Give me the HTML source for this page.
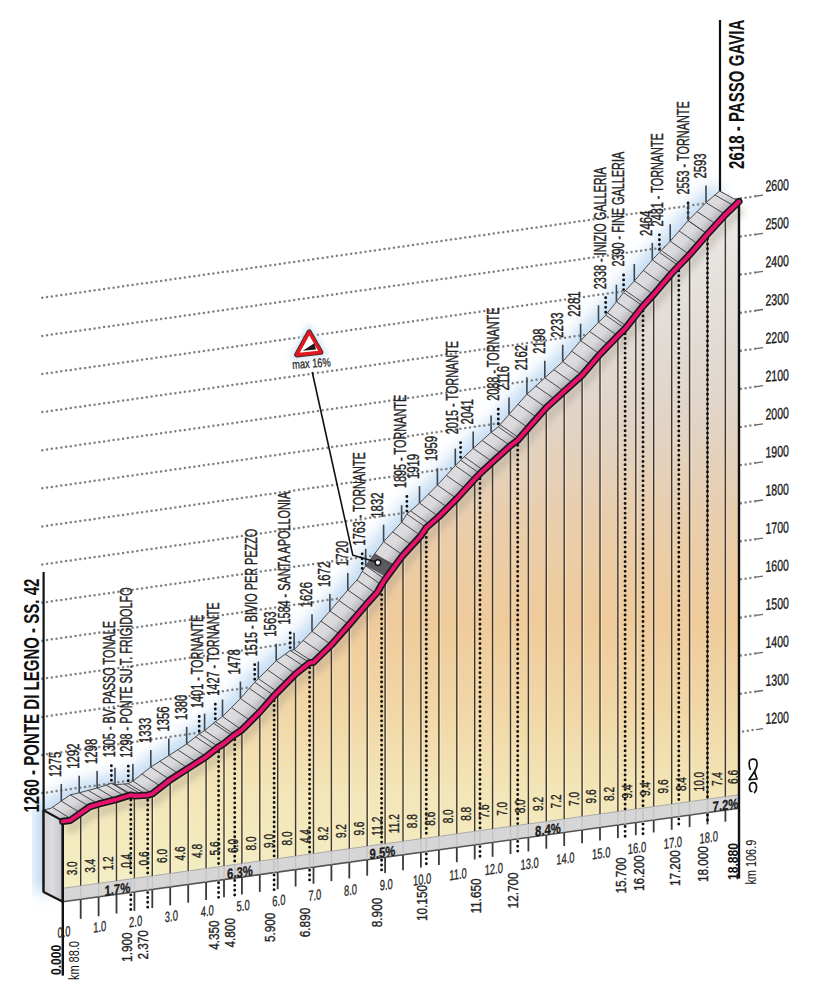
<!DOCTYPE html><html><head><meta charset="utf-8"><style>html,body{margin:0;padding:0;background:#fff;width:815px;height:1000px;overflow:hidden}svg{display:block}</style></head><body>
<svg width="815" height="1000" viewBox="0 0 815 1000" font-family="Liberation Sans, sans-serif">
<defs>
<linearGradient id="face" gradientUnits="userSpaceOnUse" x1="0" y1="200" x2="0" y2="900">
<stop offset="0" stop-color="#efedeb"/><stop offset="0.1" stop-color="#e6e2de"/><stop offset="0.22" stop-color="#e1dad3"/><stop offset="0.33" stop-color="#e2d3c3"/>
<stop offset="0.47" stop-color="#eacdaa"/><stop offset="0.6" stop-color="#efcb9b"/><stop offset="0.72" stop-color="#f1d6a5"/><stop offset="0.85" stop-color="#f3e6b8"/><stop offset="1" stop-color="#f4efc6"/>
</linearGradient>
<linearGradient id="box" x1="0" y1="0" x2="1" y2="0"><stop offset="0" stop-color="#d2d2d6"/><stop offset="0.45" stop-color="#dcdcdf"/><stop offset="1" stop-color="#c6c6ca"/></linearGradient>
<filter id="blur" x="-20%" y="-20%" width="140%" height="140%"><feGaussianBlur stdDeviation="7.5"/></filter>
<filter id="blur2" x="-50%" y="-50%" width="200%" height="200%"><feGaussianBlur stdDeviation="3"/></filter>
</defs>
<polyline points="43.4,810.1 50.9,808.3 70.3,794.8 79.2,792.8 97.1,788.0 111.4,783.3 115.0,784.7 128.3,783.7 132.9,781.1 150.8,767.0 168.8,755.6 186.7,743.9 199.2,734.0 204.6,730.6 215.3,721.7 222.5,716.5 240.4,698.5 254.7,682.2 258.3,678.6 276.2,660.7 290.2,650.6 294.1,649.7 312.0,631.3 329.9,611.0 347.8,590.0 357.9,578.9 362.2,571.4 365.7,565.8 383.6,541.7 401.6,522.2 406.9,514.1 419.5,503.1 437.4,485.1 455.3,465.6 460.6,460.2 473.2,448.4 491.1,432.4 498.3,426.8 509.0,414.4 526.9,394.2 544.8,377.8 562.7,361.7 580.6,340.7 598.5,322.3 605.7,315.2 616.4,301.7 623.6,292.6 634.3,281.0 652.3,259.9 659.4,252.4 670.2,241.2 688.1,220.6 706.0,202.6 719.6,191.0" fill="none" stroke="#c2dbf3" stroke-width="20" filter="url(#blur)" stroke-linejoin="round"/>
<polygon points="35.4,805.0 35.4,890.0 51.4,895.0 51.4,810.0" fill="#b4d2f0" filter="url(#blur)"/>
<line x1="42.3" y1="297.8" x2="756.0" y2="196.2" stroke="#808080" stroke-width="2.5" stroke-dasharray="0 4.8" stroke-linecap="round"/>
<line x1="756" y1="196.2" x2="763" y2="195.2" stroke="#666" stroke-width="1.3"/>
<text font-size="15.5" fill="#1a1a1a" stroke="#1a1a1a" stroke-width="0.35" transform="translate(765.5 191.5) skewY(-4) scale(0.68 1)">2600</text>
<line x1="42.3" y1="335.9" x2="756.0" y2="234.3" stroke="#808080" stroke-width="2.5" stroke-dasharray="0 4.8" stroke-linecap="round"/>
<line x1="756" y1="234.3" x2="763" y2="233.3" stroke="#666" stroke-width="1.3"/>
<text font-size="15.5" fill="#1a1a1a" stroke="#1a1a1a" stroke-width="0.35" transform="translate(765.5 229.6) skewY(-4) scale(0.68 1)">2500</text>
<line x1="42.3" y1="374.0" x2="756.0" y2="272.4" stroke="#808080" stroke-width="2.5" stroke-dasharray="0 4.8" stroke-linecap="round"/>
<line x1="756" y1="272.4" x2="763" y2="271.4" stroke="#666" stroke-width="1.3"/>
<text font-size="15.5" fill="#1a1a1a" stroke="#1a1a1a" stroke-width="0.35" transform="translate(765.5 267.6) skewY(-4) scale(0.68 1)">2400</text>
<line x1="42.3" y1="412.1" x2="756.0" y2="310.5" stroke="#808080" stroke-width="2.5" stroke-dasharray="0 4.8" stroke-linecap="round"/>
<line x1="756" y1="310.5" x2="763" y2="309.5" stroke="#666" stroke-width="1.3"/>
<text font-size="15.5" fill="#1a1a1a" stroke="#1a1a1a" stroke-width="0.35" transform="translate(765.5 305.7) skewY(-4) scale(0.68 1)">2300</text>
<line x1="42.3" y1="450.2" x2="756.0" y2="348.6" stroke="#808080" stroke-width="2.5" stroke-dasharray="0 4.8" stroke-linecap="round"/>
<line x1="756" y1="348.6" x2="763" y2="347.6" stroke="#666" stroke-width="1.3"/>
<text font-size="15.5" fill="#1a1a1a" stroke="#1a1a1a" stroke-width="0.35" transform="translate(765.5 343.7) skewY(-4) scale(0.68 1)">2200</text>
<line x1="42.3" y1="488.3" x2="756.0" y2="386.7" stroke="#808080" stroke-width="2.5" stroke-dasharray="0 4.8" stroke-linecap="round"/>
<line x1="756" y1="386.7" x2="763" y2="385.7" stroke="#666" stroke-width="1.3"/>
<text font-size="15.5" fill="#1a1a1a" stroke="#1a1a1a" stroke-width="0.35" transform="translate(765.5 381.7) skewY(-4) scale(0.68 1)">2100</text>
<line x1="42.3" y1="526.4" x2="756.0" y2="424.8" stroke="#808080" stroke-width="2.5" stroke-dasharray="0 4.8" stroke-linecap="round"/>
<line x1="756" y1="424.8" x2="763" y2="423.8" stroke="#666" stroke-width="1.3"/>
<text font-size="15.5" fill="#1a1a1a" stroke="#1a1a1a" stroke-width="0.35" transform="translate(765.5 419.8) skewY(-4) scale(0.68 1)">2000</text>
<line x1="42.3" y1="564.5" x2="756.0" y2="462.9" stroke="#808080" stroke-width="2.5" stroke-dasharray="0 4.8" stroke-linecap="round"/>
<line x1="756" y1="462.9" x2="763" y2="461.9" stroke="#666" stroke-width="1.3"/>
<text font-size="15.5" fill="#1a1a1a" stroke="#1a1a1a" stroke-width="0.35" transform="translate(765.5 457.8) skewY(-4) scale(0.68 1)">1900</text>
<line x1="42.3" y1="602.6" x2="756.0" y2="501.0" stroke="#808080" stroke-width="2.5" stroke-dasharray="0 4.8" stroke-linecap="round"/>
<line x1="756" y1="501.0" x2="763" y2="500.0" stroke="#666" stroke-width="1.3"/>
<text font-size="15.5" fill="#1a1a1a" stroke="#1a1a1a" stroke-width="0.35" transform="translate(765.5 495.9) skewY(-4) scale(0.68 1)">1800</text>
<line x1="42.3" y1="640.7" x2="756.0" y2="539.1" stroke="#808080" stroke-width="2.5" stroke-dasharray="0 4.8" stroke-linecap="round"/>
<line x1="756" y1="539.1" x2="763" y2="538.1" stroke="#666" stroke-width="1.3"/>
<text font-size="15.5" fill="#1a1a1a" stroke="#1a1a1a" stroke-width="0.35" transform="translate(765.5 533.9) skewY(-4) scale(0.68 1)">1700</text>
<line x1="42.3" y1="678.8" x2="756.0" y2="577.2" stroke="#808080" stroke-width="2.5" stroke-dasharray="0 4.8" stroke-linecap="round"/>
<line x1="756" y1="577.2" x2="763" y2="576.2" stroke="#666" stroke-width="1.3"/>
<text font-size="15.5" fill="#1a1a1a" stroke="#1a1a1a" stroke-width="0.35" transform="translate(765.5 571.9) skewY(-4) scale(0.68 1)">1600</text>
<line x1="42.3" y1="716.9" x2="756.0" y2="615.3" stroke="#808080" stroke-width="2.5" stroke-dasharray="0 4.8" stroke-linecap="round"/>
<line x1="756" y1="615.3" x2="763" y2="614.3" stroke="#666" stroke-width="1.3"/>
<text font-size="15.5" fill="#1a1a1a" stroke="#1a1a1a" stroke-width="0.35" transform="translate(765.5 610.0) skewY(-4) scale(0.68 1)">1500</text>
<line x1="42.3" y1="755.0" x2="756.0" y2="653.4" stroke="#808080" stroke-width="2.5" stroke-dasharray="0 4.8" stroke-linecap="round"/>
<line x1="756" y1="653.4" x2="763" y2="652.4" stroke="#666" stroke-width="1.3"/>
<text font-size="15.5" fill="#1a1a1a" stroke="#1a1a1a" stroke-width="0.35" transform="translate(765.5 648.0) skewY(-4) scale(0.68 1)">1400</text>
<line x1="42.3" y1="793.1" x2="756.0" y2="691.5" stroke="#808080" stroke-width="2.5" stroke-dasharray="0 4.8" stroke-linecap="round"/>
<line x1="756" y1="691.5" x2="763" y2="690.5" stroke="#666" stroke-width="1.3"/>
<text font-size="15.5" fill="#1a1a1a" stroke="#1a1a1a" stroke-width="0.35" transform="translate(765.5 686.1) skewY(-4) scale(0.68 1)">1300</text>
<line x1="738.3" y1="732.2" x2="756.0" y2="729.6" stroke="#808080" stroke-width="2.5" stroke-dasharray="0 4.8" stroke-linecap="round"/>
<line x1="756" y1="729.6" x2="763" y2="728.6" stroke="#666" stroke-width="1.3"/>
<text font-size="15.5" fill="#1a1a1a" stroke="#1a1a1a" stroke-width="0.35" transform="translate(765.5 724.1) skewY(-4) scale(0.68 1)">1200</text>
<line x1="43.6" y1="572" x2="43.6" y2="892" stroke="#111" stroke-width="2.2"/>
<line x1="720" y1="20" x2="720" y2="192" stroke="#111" stroke-width="2.2"/>
<clipPath id="topclip"><polygon points="62.8,821.4 70.3,820.4 89.7,806.8 98.6,804.1 116.5,799.5 130.8,795.0 134.4,796.0 147.7,795.2 152.3,793.8 170.2,779.9 188.2,768.3 206.1,756.8 218.6,746.9 224.0,743.5 234.7,734.8 241.9,729.9 259.8,712.0 274.1,695.7 277.7,692.1 295.6,674.0 309.6,662.7 313.5,662.3 331.4,644.8 349.3,624.5 367.2,603.5 377.3,592.4 381.6,584.9 385.1,579.3 403.0,555.2 420.9,535.7 426.3,527.6 438.9,516.6 456.8,498.6 474.7,479.1 480.0,473.7 492.6,461.9 510.5,445.7 517.7,440.3 528.4,427.9 546.3,407.7 564.2,391.3 582.1,375.2 600.0,354.2 617.9,335.8 625.1,328.7 635.8,315.2 643.0,306.1 653.7,294.5 671.7,273.4 678.8,265.9 689.6,254.7 707.5,234.1 725.4,214.6 739.0,201.5 719.6,191.0 706.0,202.6 688.1,220.6 670.2,241.2 659.4,252.4 652.3,259.9 634.3,281.0 623.6,292.6 616.4,301.7 605.7,315.2 598.5,322.3 580.6,340.7 562.7,361.7 544.8,377.8 526.9,394.2 509.0,414.4 498.3,426.8 491.1,432.4 473.2,448.4 460.6,460.2 455.3,465.6 437.4,485.1 419.5,503.1 406.9,514.1 401.6,522.2 383.6,541.7 365.7,565.8 362.2,571.4 357.9,578.9 347.8,590.0 329.9,611.0 312.0,631.3 294.1,649.7 290.2,650.6 276.2,660.7 258.3,678.6 254.7,682.2 240.4,698.5 222.5,716.5 215.3,721.7 204.6,730.6 199.2,734.0 186.7,743.9 168.8,755.6 150.8,767.0 132.9,781.1 128.3,783.7 115.0,784.7 111.4,783.3 97.1,788.0 79.2,792.8 70.3,794.8 50.9,808.3 43.4,810.1"/></clipPath>
<polygon points="62.8,821.4 70.3,820.4 89.7,806.8 98.6,804.1 116.5,799.5 130.8,795.0 134.4,796.0 147.7,795.2 152.3,793.8 170.2,779.9 188.2,768.3 206.1,756.8 218.6,746.9 224.0,743.5 234.7,734.8 241.9,729.9 259.8,712.0 274.1,695.7 277.7,692.1 295.6,674.0 309.6,662.7 313.5,662.3 331.4,644.8 349.3,624.5 367.2,603.5 377.3,592.4 381.6,584.9 385.1,579.3 403.0,555.2 420.9,535.7 426.3,527.6 438.9,516.6 456.8,498.6 474.7,479.1 480.0,473.7 492.6,461.9 510.5,445.7 517.7,440.3 528.4,427.9 546.3,407.7 564.2,391.3 582.1,375.2 600.0,354.2 617.9,335.8 625.1,328.7 635.8,315.2 643.0,306.1 653.7,294.5 671.7,273.4 678.8,265.9 689.6,254.7 707.5,234.1 725.4,214.6 739.0,201.5 719.6,191.0 706.0,202.6 688.1,220.6 670.2,241.2 659.4,252.4 652.3,259.9 634.3,281.0 623.6,292.6 616.4,301.7 605.7,315.2 598.5,322.3 580.6,340.7 562.7,361.7 544.8,377.8 526.9,394.2 509.0,414.4 498.3,426.8 491.1,432.4 473.2,448.4 460.6,460.2 455.3,465.6 437.4,485.1 419.5,503.1 406.9,514.1 401.6,522.2 383.6,541.7 365.7,565.8 362.2,571.4 357.9,578.9 347.8,590.0 329.9,611.0 312.0,631.3 294.1,649.7 290.2,650.6 276.2,660.7 258.3,678.6 254.7,682.2 240.4,698.5 222.5,716.5 215.3,721.7 204.6,730.6 199.2,734.0 186.7,743.9 168.8,755.6 150.8,767.0 132.9,781.1 128.3,783.7 115.0,784.7 111.4,783.3 97.1,788.0 79.2,792.8 70.3,794.8 50.9,808.3 43.4,810.1" fill="#dcdcdf"/>
<g clip-path="url(#topclip)"><polyline points="58.9,820.3 66.4,819.3 85.8,805.7 94.7,803.0 112.6,798.4 127.0,793.9 130.6,794.9 143.8,794.1 148.5,792.7 166.4,778.8 184.3,767.2 202.2,755.7 214.7,745.8 220.1,742.4 230.8,733.7 238.0,728.8 255.9,710.9 270.2,694.6 273.8,691.0 291.7,672.9 305.7,661.6 309.6,661.2 327.5,643.7 345.4,623.4 363.3,602.4 373.4,591.3 377.7,583.8 381.3,578.2 399.2,554.1 417.1,534.6 422.4,526.5 435.0,515.5 452.9,497.5 470.8,478.0 476.2,472.6 488.7,460.8 506.6,444.6 513.8,439.2 524.5,426.8 542.4,406.6 560.3,390.2 578.2,374.1 596.1,353.1 614.1,334.7 621.2,327.6 632.0,314.1 639.1,305.0 649.9,293.4 667.8,272.3 674.9,264.8 685.7,253.6 703.6,233.0 721.5,213.5 735.1,200.4" fill="none" stroke="#b4b4b9" stroke-width="9" filter="url(#blur2)"/></g>
<polygon points="385.1,576.3 394.1,564.3 374.7,553.8 365.7,565.8" fill="#5c5c60"/>
<polygon points="62.8,821.4 70.3,820.4 89.7,806.8 98.6,804.1 116.5,799.5 130.8,795.0 134.4,796.0 147.7,795.2 152.3,793.8 170.2,779.9 188.2,768.3 206.1,756.8 218.6,746.9 224.0,743.5 234.7,734.8 241.9,729.9 259.8,712.0 274.1,695.7 277.7,692.1 295.6,674.0 309.6,662.7 313.5,662.3 331.4,644.8 349.3,624.5 367.2,603.5 377.3,592.4 381.6,584.9 385.1,579.3 403.0,555.2 420.9,535.7 426.3,527.6 438.9,516.6 456.8,498.6 474.7,479.1 480.0,473.7 492.6,461.9 510.5,445.7 517.7,440.3 528.4,427.9 546.3,407.7 564.2,391.3 582.1,375.2 600.0,354.2 617.9,335.8 625.1,328.7 635.8,315.2 643.0,306.1 653.7,294.5 671.7,273.4 678.8,265.9 689.6,254.7 707.5,234.1 725.4,214.6 739.0,201.5 719.6,191.0 706.0,202.6 688.1,220.6 670.2,241.2 659.4,252.4 652.3,259.9 634.3,281.0 623.6,292.6 616.4,301.7 605.7,315.2 598.5,322.3 580.6,340.7 562.7,361.7 544.8,377.8 526.9,394.2 509.0,414.4 498.3,426.8 491.1,432.4 473.2,448.4 460.6,460.2 455.3,465.6 437.4,485.1 419.5,503.1 406.9,514.1 401.6,522.2 383.6,541.7 365.7,565.8 362.2,571.4 357.9,578.9 347.8,590.0 329.9,611.0 312.0,631.3 294.1,649.7 290.2,650.6 276.2,660.7 258.3,678.6 254.7,682.2 240.4,698.5 222.5,716.5 215.3,721.7 204.6,730.6 199.2,734.0 186.7,743.9 168.8,755.6 150.8,767.0 132.9,781.1 128.3,783.7 115.0,784.7 111.4,783.3 97.1,788.0 79.2,792.8 70.3,794.8 50.9,808.3 43.4,810.1" fill="none" stroke="#4a4a4e" stroke-width="1"/>
<line x1="62.8" y1="821.4" x2="43.4" y2="810.1" stroke="#4a4a4e" stroke-width="1"/>
<line x1="71.8" y1="819.4" x2="52.4" y2="807.3" stroke="#4a4a4e" stroke-width="1"/>
<line x1="80.7" y1="813.1" x2="61.3" y2="801.0" stroke="#4a4a4e" stroke-width="1"/>
<line x1="89.7" y1="806.8" x2="70.3" y2="794.8" stroke="#4a4a4e" stroke-width="1"/>
<line x1="98.6" y1="804.1" x2="79.2" y2="792.8" stroke="#4a4a4e" stroke-width="1"/>
<line x1="107.6" y1="801.8" x2="88.2" y2="790.4" stroke="#4a4a4e" stroke-width="1"/>
<line x1="116.5" y1="799.5" x2="97.1" y2="788.0" stroke="#4a4a4e" stroke-width="1"/>
<line x1="125.5" y1="796.7" x2="106.1" y2="785.0" stroke="#4a4a4e" stroke-width="1"/>
<line x1="134.4" y1="796.0" x2="115.0" y2="784.7" stroke="#4a4a4e" stroke-width="1"/>
<line x1="143.4" y1="795.5" x2="124.0" y2="784.0" stroke="#4a4a4e" stroke-width="1"/>
<line x1="152.3" y1="793.8" x2="132.9" y2="781.1" stroke="#4a4a4e" stroke-width="1"/>
<line x1="161.3" y1="786.8" x2="141.9" y2="774.0" stroke="#4a4a4e" stroke-width="1"/>
<line x1="170.2" y1="779.9" x2="150.8" y2="767.0" stroke="#4a4a4e" stroke-width="1"/>
<line x1="179.2" y1="774.1" x2="159.8" y2="761.3" stroke="#4a4a4e" stroke-width="1"/>
<line x1="188.2" y1="768.3" x2="168.8" y2="755.6" stroke="#4a4a4e" stroke-width="1"/>
<line x1="197.1" y1="762.5" x2="177.7" y2="749.7" stroke="#4a4a4e" stroke-width="1"/>
<line x1="206.1" y1="756.8" x2="186.7" y2="743.9" stroke="#4a4a4e" stroke-width="1"/>
<line x1="215.0" y1="749.7" x2="195.6" y2="736.8" stroke="#4a4a4e" stroke-width="1"/>
<line x1="224.0" y1="743.5" x2="204.6" y2="730.6" stroke="#4a4a4e" stroke-width="1"/>
<line x1="232.9" y1="736.3" x2="213.5" y2="723.2" stroke="#4a4a4e" stroke-width="1"/>
<line x1="241.9" y1="729.9" x2="222.5" y2="716.5" stroke="#4a4a4e" stroke-width="1"/>
<line x1="250.8" y1="720.9" x2="231.4" y2="707.5" stroke="#4a4a4e" stroke-width="1"/>
<line x1="259.8" y1="712.0" x2="240.4" y2="698.5" stroke="#4a4a4e" stroke-width="1"/>
<line x1="268.7" y1="701.8" x2="249.3" y2="688.3" stroke="#4a4a4e" stroke-width="1"/>
<line x1="277.7" y1="692.1" x2="258.3" y2="678.6" stroke="#4a4a4e" stroke-width="1"/>
<line x1="286.6" y1="683.1" x2="267.2" y2="669.6" stroke="#4a4a4e" stroke-width="1"/>
<line x1="295.6" y1="674.0" x2="276.2" y2="660.7" stroke="#4a4a4e" stroke-width="1"/>
<line x1="304.6" y1="666.8" x2="285.2" y2="654.2" stroke="#4a4a4e" stroke-width="1"/>
<line x1="313.5" y1="662.3" x2="294.1" y2="649.7" stroke="#4a4a4e" stroke-width="1"/>
<line x1="322.5" y1="653.5" x2="303.1" y2="640.5" stroke="#4a4a4e" stroke-width="1"/>
<line x1="331.4" y1="644.8" x2="312.0" y2="631.3" stroke="#4a4a4e" stroke-width="1"/>
<line x1="340.4" y1="634.7" x2="321.0" y2="621.2" stroke="#4a4a4e" stroke-width="1"/>
<line x1="349.3" y1="624.5" x2="329.9" y2="611.0" stroke="#4a4a4e" stroke-width="1"/>
<line x1="358.3" y1="614.0" x2="338.9" y2="600.5" stroke="#4a4a4e" stroke-width="1"/>
<line x1="367.2" y1="603.5" x2="347.8" y2="590.0" stroke="#4a4a4e" stroke-width="1"/>
<line x1="376.2" y1="593.6" x2="356.8" y2="580.1" stroke="#4a4a4e" stroke-width="1"/>
<line x1="385.1" y1="579.3" x2="365.7" y2="565.8" stroke="#4a4a4e" stroke-width="1"/>
<line x1="394.1" y1="567.3" x2="374.7" y2="553.8" stroke="#4a4a4e" stroke-width="1"/>
<line x1="403.0" y1="555.2" x2="383.6" y2="541.7" stroke="#4a4a4e" stroke-width="1"/>
<line x1="412.0" y1="545.4" x2="392.6" y2="531.9" stroke="#4a4a4e" stroke-width="1"/>
<line x1="420.9" y1="535.7" x2="401.6" y2="522.2" stroke="#4a4a4e" stroke-width="1"/>
<line x1="429.9" y1="524.4" x2="410.5" y2="510.9" stroke="#4a4a4e" stroke-width="1"/>
<line x1="438.9" y1="516.6" x2="419.5" y2="503.1" stroke="#4a4a4e" stroke-width="1"/>
<line x1="447.8" y1="507.6" x2="428.4" y2="494.1" stroke="#4a4a4e" stroke-width="1"/>
<line x1="456.8" y1="498.6" x2="437.4" y2="485.1" stroke="#4a4a4e" stroke-width="1"/>
<line x1="465.7" y1="488.9" x2="446.3" y2="475.4" stroke="#4a4a4e" stroke-width="1"/>
<line x1="474.7" y1="479.1" x2="455.3" y2="465.6" stroke="#4a4a4e" stroke-width="1"/>
<line x1="483.6" y1="470.3" x2="464.2" y2="456.8" stroke="#4a4a4e" stroke-width="1"/>
<line x1="492.6" y1="461.9" x2="473.2" y2="448.4" stroke="#4a4a4e" stroke-width="1"/>
<line x1="501.5" y1="453.8" x2="482.1" y2="440.4" stroke="#4a4a4e" stroke-width="1"/>
<line x1="510.5" y1="445.7" x2="491.1" y2="432.4" stroke="#4a4a4e" stroke-width="1"/>
<line x1="519.4" y1="438.2" x2="500.0" y2="424.7" stroke="#4a4a4e" stroke-width="1"/>
<line x1="528.4" y1="427.9" x2="509.0" y2="414.4" stroke="#4a4a4e" stroke-width="1"/>
<line x1="537.3" y1="417.8" x2="517.9" y2="404.3" stroke="#4a4a4e" stroke-width="1"/>
<line x1="546.3" y1="407.7" x2="526.9" y2="394.2" stroke="#4a4a4e" stroke-width="1"/>
<line x1="555.3" y1="399.5" x2="535.9" y2="386.0" stroke="#4a4a4e" stroke-width="1"/>
<line x1="564.2" y1="391.3" x2="544.8" y2="377.8" stroke="#4a4a4e" stroke-width="1"/>
<line x1="573.2" y1="383.2" x2="553.8" y2="369.7" stroke="#4a4a4e" stroke-width="1"/>
<line x1="582.1" y1="375.2" x2="562.7" y2="361.7" stroke="#4a4a4e" stroke-width="1"/>
<line x1="591.1" y1="364.7" x2="571.7" y2="351.2" stroke="#4a4a4e" stroke-width="1"/>
<line x1="600.0" y1="354.2" x2="580.6" y2="340.7" stroke="#4a4a4e" stroke-width="1"/>
<line x1="609.0" y1="345.0" x2="589.6" y2="331.5" stroke="#4a4a4e" stroke-width="1"/>
<line x1="617.9" y1="335.8" x2="598.5" y2="322.3" stroke="#4a4a4e" stroke-width="1"/>
<line x1="626.9" y1="326.4" x2="607.5" y2="312.9" stroke="#4a4a4e" stroke-width="1"/>
<line x1="635.8" y1="315.2" x2="616.4" y2="301.7" stroke="#4a4a4e" stroke-width="1"/>
<line x1="644.8" y1="304.1" x2="625.4" y2="290.6" stroke="#4a4a4e" stroke-width="1"/>
<line x1="653.7" y1="294.5" x2="634.3" y2="281.0" stroke="#4a4a4e" stroke-width="1"/>
<line x1="662.7" y1="284.0" x2="643.3" y2="270.5" stroke="#4a4a4e" stroke-width="1"/>
<line x1="671.7" y1="273.4" x2="652.3" y2="259.9" stroke="#4a4a4e" stroke-width="1"/>
<line x1="680.6" y1="264.0" x2="661.2" y2="250.5" stroke="#4a4a4e" stroke-width="1"/>
<line x1="689.6" y1="254.7" x2="670.2" y2="241.2" stroke="#4a4a4e" stroke-width="1"/>
<line x1="698.5" y1="244.4" x2="679.1" y2="230.9" stroke="#4a4a4e" stroke-width="1"/>
<line x1="707.5" y1="234.1" x2="688.1" y2="220.6" stroke="#4a4a4e" stroke-width="1"/>
<line x1="716.4" y1="224.3" x2="697.0" y2="211.6" stroke="#4a4a4e" stroke-width="1"/>
<line x1="725.4" y1="214.6" x2="706.0" y2="202.6" stroke="#4a4a4e" stroke-width="1"/>
<line x1="734.3" y1="206.0" x2="714.9" y2="195.0" stroke="#4a4a4e" stroke-width="1"/>
<line x1="130.8" y1="795.0" x2="111.4" y2="783.3" stroke="#4a4a4e" stroke-width="1"/>
<line x1="147.7" y1="795.2" x2="128.3" y2="783.7" stroke="#4a4a4e" stroke-width="1"/>
<line x1="218.6" y1="746.9" x2="199.2" y2="734.0" stroke="#4a4a4e" stroke-width="1"/>
<line x1="234.7" y1="734.8" x2="215.3" y2="721.7" stroke="#4a4a4e" stroke-width="1"/>
<line x1="274.1" y1="695.7" x2="254.7" y2="682.2" stroke="#4a4a4e" stroke-width="1"/>
<line x1="309.6" y1="662.7" x2="290.2" y2="650.6" stroke="#4a4a4e" stroke-width="1"/>
<line x1="381.6" y1="584.9" x2="362.2" y2="571.4" stroke="#4a4a4e" stroke-width="1"/>
<line x1="426.3" y1="527.6" x2="406.9" y2="514.1" stroke="#4a4a4e" stroke-width="1"/>
<line x1="480.0" y1="473.7" x2="460.6" y2="460.2" stroke="#4a4a4e" stroke-width="1"/>
<line x1="517.7" y1="440.3" x2="498.3" y2="426.8" stroke="#4a4a4e" stroke-width="1"/>
<line x1="625.1" y1="328.7" x2="605.7" y2="315.2" stroke="#4a4a4e" stroke-width="1"/>
<line x1="643.0" y1="306.1" x2="623.6" y2="292.6" stroke="#4a4a4e" stroke-width="1"/>
<line x1="678.8" y1="265.9" x2="659.4" y2="252.4" stroke="#4a4a4e" stroke-width="1"/>
<line x1="707.5" y1="234.1" x2="688.1" y2="220.6" stroke="#4a4a4e" stroke-width="1"/>
<polygon points="43.6,810.2 62.8,820.9 62.8,901.8 43.6,892.0" fill="url(#box)" stroke="#161616" stroke-width="2.2" stroke-linejoin="round"/>
<polygon points="62.8,821.4 70.3,820.4 89.7,806.8 98.6,804.1 116.5,799.5 130.8,795.0 134.4,796.0 147.7,795.2 152.3,793.8 170.2,779.9 188.2,768.3 206.1,756.8 218.6,746.9 224.0,743.5 234.7,734.8 241.9,729.9 259.8,712.0 274.1,695.7 277.7,692.1 295.6,674.0 309.6,662.7 313.5,662.3 331.4,644.8 349.3,624.5 367.2,603.5 377.3,592.4 381.6,584.9 385.1,579.3 403.0,555.2 420.9,535.7 426.3,527.6 438.9,516.6 456.8,498.6 474.7,479.1 480.0,473.7 492.6,461.9 510.5,445.7 517.7,440.3 528.4,427.9 546.3,407.7 564.2,391.3 582.1,375.2 600.0,354.2 617.9,335.8 625.1,328.7 635.8,315.2 643.0,306.1 653.7,294.5 671.7,273.4 678.8,265.9 689.6,254.7 707.5,234.1 725.4,214.6 739.0,201.5 739.0,808.3 62.8,901.8" fill="url(#face)"/>
<polyline points="65.8,828.4 73.3,827.4 92.7,813.8 101.6,811.1 119.5,806.5 133.8,802.0 137.4,803.0 150.7,802.2 155.3,800.8 173.2,786.9 191.2,775.3 209.1,763.8 221.6,753.9 227.0,750.5 237.7,741.8 244.9,736.9 262.8,719.0 277.1,702.7 280.7,699.1 298.6,681.0 312.6,669.7 316.5,669.3 334.4,651.8 352.3,631.5 370.2,610.5 380.3,599.4 384.6,591.9 388.1,586.3 406.0,562.2 423.9,542.7 429.3,534.6 441.9,523.6 459.8,505.6 477.7,486.1 483.0,480.7 495.6,468.9 513.5,452.7 520.7,447.3 531.4,434.9 549.3,414.7 567.2,398.3 585.1,382.2 603.0,361.2 620.9,342.8 628.1,335.7 638.8,322.2 646.0,313.1 656.7,301.5 674.7,280.4 681.8,272.9 692.6,261.7 710.5,241.1 728.4,221.6 742.0,208.5" fill="none" stroke="#9a8f84" stroke-opacity="0.35" stroke-width="10" filter="url(#blur2)"/>
<polygon points="62.8,888.3 739.0,794.8 739.0,808.3 62.8,901.8" fill="#d6d6d6"/>
<line x1="62.8" y1="888.3" x2="739.0" y2="794.8" stroke="#aaa" stroke-width="1"/>
<line x1="62.8" y1="901.8" x2="739.0" y2="808.3" stroke="#555" stroke-width="1.6"/>
<line x1="82.0" y1="813.1" x2="82.0" y2="885.8" stroke="#fff" stroke-opacity="0.4" stroke-width="1.1"/>
<line x1="80.7" y1="813.1" x2="80.7" y2="885.8" stroke="#40382f" stroke-width="1.4"/>
<line x1="80.7" y1="885.8" x2="80.7" y2="899.3" stroke="#c2c2c2" stroke-width="1.2"/>
<line x1="80.7" y1="899.3" x2="80.7" y2="918.9" stroke="#3a3a3a" stroke-width="1.8"/>
<line x1="99.9" y1="804.1" x2="99.9" y2="883.3" stroke="#fff" stroke-opacity="0.4" stroke-width="1.1"/>
<line x1="98.6" y1="804.1" x2="98.6" y2="883.3" stroke="#40382f" stroke-width="1.4"/>
<line x1="98.6" y1="883.3" x2="98.6" y2="896.8" stroke="#c2c2c2" stroke-width="1.2"/>
<line x1="98.6" y1="896.8" x2="98.6" y2="916.2" stroke="#3a3a3a" stroke-width="1.8"/>
<line x1="117.8" y1="799.5" x2="117.8" y2="880.9" stroke="#fff" stroke-opacity="0.4" stroke-width="1.1"/>
<line x1="116.5" y1="799.5" x2="116.5" y2="880.9" stroke="#40382f" stroke-width="1.4"/>
<line x1="116.5" y1="880.9" x2="116.5" y2="894.4" stroke="#c2c2c2" stroke-width="1.2"/>
<line x1="116.5" y1="894.4" x2="116.5" y2="913.5" stroke="#3a3a3a" stroke-width="1.8"/>
<line x1="135.7" y1="796.0" x2="135.7" y2="878.4" stroke="#fff" stroke-opacity="0.4" stroke-width="1.1"/>
<line x1="134.4" y1="796.0" x2="134.4" y2="878.4" stroke="#40382f" stroke-width="1.4"/>
<line x1="134.4" y1="878.4" x2="134.4" y2="891.9" stroke="#c2c2c2" stroke-width="1.2"/>
<line x1="134.4" y1="891.9" x2="134.4" y2="910.8" stroke="#3a3a3a" stroke-width="1.8"/>
<line x1="153.6" y1="793.8" x2="153.6" y2="875.9" stroke="#fff" stroke-opacity="0.4" stroke-width="1.1"/>
<line x1="152.3" y1="793.8" x2="152.3" y2="875.9" stroke="#40382f" stroke-width="1.4"/>
<line x1="152.3" y1="875.9" x2="152.3" y2="889.4" stroke="#c2c2c2" stroke-width="1.2"/>
<line x1="152.3" y1="889.4" x2="152.3" y2="908.1" stroke="#3a3a3a" stroke-width="1.8"/>
<line x1="171.5" y1="779.9" x2="171.5" y2="873.4" stroke="#fff" stroke-opacity="0.4" stroke-width="1.1"/>
<line x1="170.2" y1="779.9" x2="170.2" y2="873.4" stroke="#40382f" stroke-width="1.4"/>
<line x1="170.2" y1="873.4" x2="170.2" y2="886.9" stroke="#c2c2c2" stroke-width="1.2"/>
<line x1="170.2" y1="886.9" x2="170.2" y2="905.4" stroke="#3a3a3a" stroke-width="1.8"/>
<line x1="189.5" y1="768.3" x2="189.5" y2="871.0" stroke="#fff" stroke-opacity="0.4" stroke-width="1.1"/>
<line x1="188.2" y1="768.3" x2="188.2" y2="871.0" stroke="#40382f" stroke-width="1.4"/>
<line x1="188.2" y1="871.0" x2="188.2" y2="884.5" stroke="#c2c2c2" stroke-width="1.2"/>
<line x1="188.2" y1="884.5" x2="188.2" y2="902.7" stroke="#3a3a3a" stroke-width="1.8"/>
<line x1="207.4" y1="756.8" x2="207.4" y2="868.5" stroke="#fff" stroke-opacity="0.4" stroke-width="1.1"/>
<line x1="206.1" y1="756.8" x2="206.1" y2="868.5" stroke="#40382f" stroke-width="1.4"/>
<line x1="206.1" y1="868.5" x2="206.1" y2="882.0" stroke="#c2c2c2" stroke-width="1.2"/>
<line x1="206.1" y1="882.0" x2="206.1" y2="900.0" stroke="#3a3a3a" stroke-width="1.8"/>
<line x1="225.3" y1="743.5" x2="225.3" y2="866.0" stroke="#fff" stroke-opacity="0.4" stroke-width="1.1"/>
<line x1="224.0" y1="743.5" x2="224.0" y2="866.0" stroke="#40382f" stroke-width="1.4"/>
<line x1="224.0" y1="866.0" x2="224.0" y2="879.5" stroke="#c2c2c2" stroke-width="1.2"/>
<line x1="224.0" y1="879.5" x2="224.0" y2="897.3" stroke="#3a3a3a" stroke-width="1.8"/>
<line x1="243.2" y1="729.9" x2="243.2" y2="863.5" stroke="#fff" stroke-opacity="0.4" stroke-width="1.1"/>
<line x1="241.9" y1="729.9" x2="241.9" y2="863.5" stroke="#40382f" stroke-width="1.4"/>
<line x1="241.9" y1="863.5" x2="241.9" y2="877.0" stroke="#c2c2c2" stroke-width="1.2"/>
<line x1="241.9" y1="877.0" x2="241.9" y2="894.6" stroke="#3a3a3a" stroke-width="1.8"/>
<line x1="261.1" y1="712.0" x2="261.1" y2="861.1" stroke="#fff" stroke-opacity="0.4" stroke-width="1.1"/>
<line x1="259.8" y1="712.0" x2="259.8" y2="861.1" stroke="#40382f" stroke-width="1.4"/>
<line x1="259.8" y1="861.1" x2="259.8" y2="874.6" stroke="#c2c2c2" stroke-width="1.2"/>
<line x1="259.8" y1="874.6" x2="259.8" y2="891.9" stroke="#3a3a3a" stroke-width="1.8"/>
<line x1="279.0" y1="692.1" x2="279.0" y2="858.6" stroke="#fff" stroke-opacity="0.4" stroke-width="1.1"/>
<line x1="277.7" y1="692.1" x2="277.7" y2="858.6" stroke="#40382f" stroke-width="1.4"/>
<line x1="277.7" y1="858.6" x2="277.7" y2="872.1" stroke="#c2c2c2" stroke-width="1.2"/>
<line x1="277.7" y1="872.1" x2="277.7" y2="889.2" stroke="#3a3a3a" stroke-width="1.8"/>
<line x1="296.9" y1="674.0" x2="296.9" y2="856.1" stroke="#fff" stroke-opacity="0.4" stroke-width="1.1"/>
<line x1="295.6" y1="674.0" x2="295.6" y2="856.1" stroke="#40382f" stroke-width="1.4"/>
<line x1="295.6" y1="856.1" x2="295.6" y2="869.6" stroke="#c2c2c2" stroke-width="1.2"/>
<line x1="295.6" y1="869.6" x2="295.6" y2="886.5" stroke="#3a3a3a" stroke-width="1.8"/>
<line x1="314.8" y1="662.3" x2="314.8" y2="853.6" stroke="#fff" stroke-opacity="0.4" stroke-width="1.1"/>
<line x1="313.5" y1="662.3" x2="313.5" y2="853.6" stroke="#40382f" stroke-width="1.4"/>
<line x1="313.5" y1="853.6" x2="313.5" y2="867.1" stroke="#c2c2c2" stroke-width="1.2"/>
<line x1="313.5" y1="867.1" x2="313.5" y2="883.8" stroke="#3a3a3a" stroke-width="1.8"/>
<line x1="332.7" y1="644.8" x2="332.7" y2="851.2" stroke="#fff" stroke-opacity="0.4" stroke-width="1.1"/>
<line x1="331.4" y1="644.8" x2="331.4" y2="851.2" stroke="#40382f" stroke-width="1.4"/>
<line x1="331.4" y1="851.2" x2="331.4" y2="864.7" stroke="#c2c2c2" stroke-width="1.2"/>
<line x1="331.4" y1="864.7" x2="331.4" y2="881.1" stroke="#3a3a3a" stroke-width="1.8"/>
<line x1="350.6" y1="624.5" x2="350.6" y2="848.7" stroke="#fff" stroke-opacity="0.4" stroke-width="1.1"/>
<line x1="349.3" y1="624.5" x2="349.3" y2="848.7" stroke="#40382f" stroke-width="1.4"/>
<line x1="349.3" y1="848.7" x2="349.3" y2="862.2" stroke="#c2c2c2" stroke-width="1.2"/>
<line x1="349.3" y1="862.2" x2="349.3" y2="878.4" stroke="#3a3a3a" stroke-width="1.8"/>
<line x1="368.5" y1="603.5" x2="368.5" y2="846.2" stroke="#fff" stroke-opacity="0.4" stroke-width="1.1"/>
<line x1="367.2" y1="603.5" x2="367.2" y2="846.2" stroke="#40382f" stroke-width="1.4"/>
<line x1="367.2" y1="846.2" x2="367.2" y2="859.7" stroke="#c2c2c2" stroke-width="1.2"/>
<line x1="367.2" y1="859.7" x2="367.2" y2="875.7" stroke="#3a3a3a" stroke-width="1.8"/>
<line x1="386.4" y1="579.3" x2="386.4" y2="843.7" stroke="#fff" stroke-opacity="0.4" stroke-width="1.1"/>
<line x1="385.1" y1="579.3" x2="385.1" y2="843.7" stroke="#40382f" stroke-width="1.4"/>
<line x1="385.1" y1="843.7" x2="385.1" y2="857.2" stroke="#c2c2c2" stroke-width="1.2"/>
<line x1="385.1" y1="857.2" x2="385.1" y2="873.0" stroke="#3a3a3a" stroke-width="1.8"/>
<line x1="404.3" y1="555.2" x2="404.3" y2="841.2" stroke="#fff" stroke-opacity="0.4" stroke-width="1.1"/>
<line x1="403.0" y1="555.2" x2="403.0" y2="841.2" stroke="#40382f" stroke-width="1.4"/>
<line x1="403.0" y1="841.2" x2="403.0" y2="854.7" stroke="#c2c2c2" stroke-width="1.2"/>
<line x1="403.0" y1="854.7" x2="403.0" y2="870.3" stroke="#3a3a3a" stroke-width="1.8"/>
<line x1="422.2" y1="535.7" x2="422.2" y2="838.8" stroke="#fff" stroke-opacity="0.4" stroke-width="1.1"/>
<line x1="420.9" y1="535.7" x2="420.9" y2="838.8" stroke="#40382f" stroke-width="1.4"/>
<line x1="420.9" y1="838.8" x2="420.9" y2="852.3" stroke="#c2c2c2" stroke-width="1.2"/>
<line x1="420.9" y1="852.3" x2="420.9" y2="867.6" stroke="#3a3a3a" stroke-width="1.8"/>
<line x1="440.2" y1="516.6" x2="440.2" y2="836.3" stroke="#fff" stroke-opacity="0.4" stroke-width="1.1"/>
<line x1="438.9" y1="516.6" x2="438.9" y2="836.3" stroke="#40382f" stroke-width="1.4"/>
<line x1="438.9" y1="836.3" x2="438.9" y2="849.8" stroke="#c2c2c2" stroke-width="1.2"/>
<line x1="438.9" y1="849.8" x2="438.9" y2="864.9" stroke="#3a3a3a" stroke-width="1.8"/>
<line x1="458.1" y1="498.6" x2="458.1" y2="833.8" stroke="#fff" stroke-opacity="0.4" stroke-width="1.1"/>
<line x1="456.8" y1="498.6" x2="456.8" y2="833.8" stroke="#40382f" stroke-width="1.4"/>
<line x1="456.8" y1="833.8" x2="456.8" y2="847.3" stroke="#c2c2c2" stroke-width="1.2"/>
<line x1="456.8" y1="847.3" x2="456.8" y2="862.2" stroke="#3a3a3a" stroke-width="1.8"/>
<line x1="476.0" y1="479.1" x2="476.0" y2="831.3" stroke="#fff" stroke-opacity="0.4" stroke-width="1.1"/>
<line x1="474.7" y1="479.1" x2="474.7" y2="831.3" stroke="#40382f" stroke-width="1.4"/>
<line x1="474.7" y1="831.3" x2="474.7" y2="844.8" stroke="#c2c2c2" stroke-width="1.2"/>
<line x1="474.7" y1="844.8" x2="474.7" y2="859.5" stroke="#3a3a3a" stroke-width="1.8"/>
<line x1="493.9" y1="461.9" x2="493.9" y2="828.9" stroke="#fff" stroke-opacity="0.4" stroke-width="1.1"/>
<line x1="492.6" y1="461.9" x2="492.6" y2="828.9" stroke="#40382f" stroke-width="1.4"/>
<line x1="492.6" y1="828.9" x2="492.6" y2="842.4" stroke="#c2c2c2" stroke-width="1.2"/>
<line x1="492.6" y1="842.4" x2="492.6" y2="856.8" stroke="#3a3a3a" stroke-width="1.8"/>
<line x1="511.8" y1="445.7" x2="511.8" y2="826.4" stroke="#fff" stroke-opacity="0.4" stroke-width="1.1"/>
<line x1="510.5" y1="445.7" x2="510.5" y2="826.4" stroke="#40382f" stroke-width="1.4"/>
<line x1="510.5" y1="826.4" x2="510.5" y2="839.9" stroke="#c2c2c2" stroke-width="1.2"/>
<line x1="510.5" y1="839.9" x2="510.5" y2="854.1" stroke="#3a3a3a" stroke-width="1.8"/>
<line x1="529.7" y1="427.9" x2="529.7" y2="823.9" stroke="#fff" stroke-opacity="0.4" stroke-width="1.1"/>
<line x1="528.4" y1="427.9" x2="528.4" y2="823.9" stroke="#40382f" stroke-width="1.4"/>
<line x1="528.4" y1="823.9" x2="528.4" y2="837.4" stroke="#c2c2c2" stroke-width="1.2"/>
<line x1="528.4" y1="837.4" x2="528.4" y2="851.4" stroke="#3a3a3a" stroke-width="1.8"/>
<line x1="547.6" y1="407.7" x2="547.6" y2="821.4" stroke="#fff" stroke-opacity="0.4" stroke-width="1.1"/>
<line x1="546.3" y1="407.7" x2="546.3" y2="821.4" stroke="#40382f" stroke-width="1.4"/>
<line x1="546.3" y1="821.4" x2="546.3" y2="834.9" stroke="#c2c2c2" stroke-width="1.2"/>
<line x1="546.3" y1="834.9" x2="546.3" y2="848.7" stroke="#3a3a3a" stroke-width="1.8"/>
<line x1="565.5" y1="391.3" x2="565.5" y2="819.0" stroke="#fff" stroke-opacity="0.4" stroke-width="1.1"/>
<line x1="564.2" y1="391.3" x2="564.2" y2="819.0" stroke="#40382f" stroke-width="1.4"/>
<line x1="564.2" y1="819.0" x2="564.2" y2="832.5" stroke="#c2c2c2" stroke-width="1.2"/>
<line x1="564.2" y1="832.5" x2="564.2" y2="846.0" stroke="#3a3a3a" stroke-width="1.8"/>
<line x1="583.4" y1="375.2" x2="583.4" y2="816.5" stroke="#fff" stroke-opacity="0.4" stroke-width="1.1"/>
<line x1="582.1" y1="375.2" x2="582.1" y2="816.5" stroke="#40382f" stroke-width="1.4"/>
<line x1="582.1" y1="816.5" x2="582.1" y2="830.0" stroke="#c2c2c2" stroke-width="1.2"/>
<line x1="582.1" y1="830.0" x2="582.1" y2="843.3" stroke="#3a3a3a" stroke-width="1.8"/>
<line x1="601.3" y1="354.2" x2="601.3" y2="814.0" stroke="#fff" stroke-opacity="0.4" stroke-width="1.1"/>
<line x1="600.0" y1="354.2" x2="600.0" y2="814.0" stroke="#40382f" stroke-width="1.4"/>
<line x1="600.0" y1="814.0" x2="600.0" y2="827.5" stroke="#c2c2c2" stroke-width="1.2"/>
<line x1="600.0" y1="827.5" x2="600.0" y2="840.6" stroke="#3a3a3a" stroke-width="1.8"/>
<line x1="619.2" y1="335.8" x2="619.2" y2="811.5" stroke="#fff" stroke-opacity="0.4" stroke-width="1.1"/>
<line x1="617.9" y1="335.8" x2="617.9" y2="811.5" stroke="#40382f" stroke-width="1.4"/>
<line x1="617.9" y1="811.5" x2="617.9" y2="825.0" stroke="#c2c2c2" stroke-width="1.2"/>
<line x1="617.9" y1="825.0" x2="617.9" y2="837.9" stroke="#3a3a3a" stroke-width="1.8"/>
<line x1="637.1" y1="315.2" x2="637.1" y2="809.0" stroke="#fff" stroke-opacity="0.4" stroke-width="1.1"/>
<line x1="635.8" y1="315.2" x2="635.8" y2="809.0" stroke="#40382f" stroke-width="1.4"/>
<line x1="635.8" y1="809.0" x2="635.8" y2="822.5" stroke="#c2c2c2" stroke-width="1.2"/>
<line x1="635.8" y1="822.5" x2="635.8" y2="835.2" stroke="#3a3a3a" stroke-width="1.8"/>
<line x1="655.0" y1="294.5" x2="655.0" y2="806.6" stroke="#fff" stroke-opacity="0.4" stroke-width="1.1"/>
<line x1="653.7" y1="294.5" x2="653.7" y2="806.6" stroke="#40382f" stroke-width="1.4"/>
<line x1="653.7" y1="806.6" x2="653.7" y2="820.1" stroke="#c2c2c2" stroke-width="1.2"/>
<line x1="653.7" y1="820.1" x2="653.7" y2="832.5" stroke="#3a3a3a" stroke-width="1.8"/>
<line x1="673.0" y1="273.4" x2="673.0" y2="804.1" stroke="#fff" stroke-opacity="0.4" stroke-width="1.1"/>
<line x1="671.7" y1="273.4" x2="671.7" y2="804.1" stroke="#40382f" stroke-width="1.4"/>
<line x1="671.7" y1="804.1" x2="671.7" y2="817.6" stroke="#c2c2c2" stroke-width="1.2"/>
<line x1="671.7" y1="817.6" x2="671.7" y2="829.8" stroke="#3a3a3a" stroke-width="1.8"/>
<line x1="690.9" y1="254.7" x2="690.9" y2="801.6" stroke="#fff" stroke-opacity="0.4" stroke-width="1.1"/>
<line x1="689.6" y1="254.7" x2="689.6" y2="801.6" stroke="#40382f" stroke-width="1.4"/>
<line x1="689.6" y1="801.6" x2="689.6" y2="815.1" stroke="#c2c2c2" stroke-width="1.2"/>
<line x1="689.6" y1="815.1" x2="689.6" y2="827.1" stroke="#3a3a3a" stroke-width="1.8"/>
<line x1="708.8" y1="234.1" x2="708.8" y2="799.1" stroke="#fff" stroke-opacity="0.4" stroke-width="1.1"/>
<line x1="707.5" y1="234.1" x2="707.5" y2="799.1" stroke="#40382f" stroke-width="1.4"/>
<line x1="707.5" y1="799.1" x2="707.5" y2="812.6" stroke="#c2c2c2" stroke-width="1.2"/>
<line x1="707.5" y1="812.6" x2="707.5" y2="824.4" stroke="#3a3a3a" stroke-width="1.8"/>
<line x1="726.7" y1="214.6" x2="726.7" y2="796.7" stroke="#fff" stroke-opacity="0.4" stroke-width="1.1"/>
<line x1="725.4" y1="214.6" x2="725.4" y2="796.7" stroke="#40382f" stroke-width="1.4"/>
<line x1="725.4" y1="796.7" x2="725.4" y2="810.2" stroke="#c2c2c2" stroke-width="1.2"/>
<line x1="725.4" y1="810.2" x2="725.4" y2="821.7" stroke="#3a3a3a" stroke-width="1.8"/>
<line x1="130.8" y1="800.0" x2="130.8" y2="877.4" stroke="#111" stroke-width="2.9" stroke-dasharray="0 4.85" stroke-linecap="round"/>
<line x1="130.8" y1="878.9" x2="130.8" y2="892.4" stroke="#c4c4c8" stroke-width="1.6"/>
<line x1="130.8" y1="894.9" x2="130.8" y2="911.4" stroke="#111" stroke-width="2.9" stroke-dasharray="0 4.85" stroke-linecap="round"/>
<line x1="111.4" y1="780.3" x2="111.4" y2="765.3" stroke="#111" stroke-width="2.9" stroke-dasharray="0 4.85" stroke-linecap="round"/>
<line x1="147.7" y1="800.2" x2="147.7" y2="875.1" stroke="#111" stroke-width="2.9" stroke-dasharray="0 4.85" stroke-linecap="round"/>
<line x1="147.7" y1="876.6" x2="147.7" y2="890.1" stroke="#c4c4c8" stroke-width="1.6"/>
<line x1="147.7" y1="892.6" x2="147.7" y2="908.8" stroke="#111" stroke-width="2.9" stroke-dasharray="0 4.85" stroke-linecap="round"/>
<line x1="128.3" y1="780.7" x2="128.3" y2="765.7" stroke="#111" stroke-width="2.9" stroke-dasharray="0 4.85" stroke-linecap="round"/>
<line x1="218.6" y1="751.9" x2="218.6" y2="865.3" stroke="#111" stroke-width="2.9" stroke-dasharray="0 4.85" stroke-linecap="round"/>
<line x1="218.6" y1="866.8" x2="218.6" y2="880.3" stroke="#c4c4c8" stroke-width="1.6"/>
<line x1="218.6" y1="882.8" x2="218.6" y2="898.2" stroke="#111" stroke-width="2.9" stroke-dasharray="0 4.85" stroke-linecap="round"/>
<line x1="199.2" y1="731.0" x2="199.2" y2="716.0" stroke="#111" stroke-width="2.9" stroke-dasharray="0 4.85" stroke-linecap="round"/>
<line x1="234.7" y1="739.8" x2="234.7" y2="863.0" stroke="#111" stroke-width="2.9" stroke-dasharray="0 4.85" stroke-linecap="round"/>
<line x1="234.7" y1="864.5" x2="234.7" y2="878.0" stroke="#c4c4c8" stroke-width="1.6"/>
<line x1="234.7" y1="880.5" x2="234.7" y2="895.7" stroke="#111" stroke-width="2.9" stroke-dasharray="0 4.85" stroke-linecap="round"/>
<line x1="215.3" y1="718.7" x2="215.3" y2="703.7" stroke="#111" stroke-width="2.9" stroke-dasharray="0 4.85" stroke-linecap="round"/>
<line x1="274.1" y1="700.7" x2="274.1" y2="857.6" stroke="#111" stroke-width="2.9" stroke-dasharray="0 4.85" stroke-linecap="round"/>
<line x1="274.1" y1="859.1" x2="274.1" y2="872.6" stroke="#c4c4c8" stroke-width="1.6"/>
<line x1="274.1" y1="875.1" x2="274.1" y2="889.8" stroke="#111" stroke-width="2.9" stroke-dasharray="0 4.85" stroke-linecap="round"/>
<line x1="254.7" y1="679.2" x2="254.7" y2="664.2" stroke="#111" stroke-width="2.9" stroke-dasharray="0 4.85" stroke-linecap="round"/>
<line x1="309.6" y1="667.7" x2="309.6" y2="852.7" stroke="#111" stroke-width="2.9" stroke-dasharray="0 4.85" stroke-linecap="round"/>
<line x1="309.6" y1="854.2" x2="309.6" y2="867.7" stroke="#c4c4c8" stroke-width="1.6"/>
<line x1="309.6" y1="870.2" x2="309.6" y2="884.4" stroke="#111" stroke-width="2.9" stroke-dasharray="0 4.85" stroke-linecap="round"/>
<line x1="290.2" y1="647.6" x2="290.2" y2="632.6" stroke="#111" stroke-width="2.9" stroke-dasharray="0 4.85" stroke-linecap="round"/>
<line x1="381.6" y1="589.9" x2="381.6" y2="842.7" stroke="#111" stroke-width="2.9" stroke-dasharray="0 4.85" stroke-linecap="round"/>
<line x1="381.6" y1="844.2" x2="381.6" y2="857.7" stroke="#c4c4c8" stroke-width="1.6"/>
<line x1="381.6" y1="860.2" x2="381.6" y2="873.6" stroke="#111" stroke-width="2.9" stroke-dasharray="0 4.85" stroke-linecap="round"/>
<line x1="362.2" y1="568.4" x2="362.2" y2="553.4" stroke="#111" stroke-width="2.9" stroke-dasharray="0 4.85" stroke-linecap="round"/>
<line x1="426.3" y1="532.6" x2="426.3" y2="836.5" stroke="#111" stroke-width="2.9" stroke-dasharray="0 4.85" stroke-linecap="round"/>
<line x1="426.3" y1="838.0" x2="426.3" y2="851.5" stroke="#c4c4c8" stroke-width="1.6"/>
<line x1="426.3" y1="854.0" x2="426.3" y2="866.8" stroke="#111" stroke-width="2.9" stroke-dasharray="0 4.85" stroke-linecap="round"/>
<line x1="406.9" y1="511.1" x2="406.9" y2="496.1" stroke="#111" stroke-width="2.9" stroke-dasharray="0 4.85" stroke-linecap="round"/>
<line x1="480.0" y1="478.7" x2="480.0" y2="829.1" stroke="#111" stroke-width="2.9" stroke-dasharray="0 4.85" stroke-linecap="round"/>
<line x1="480.0" y1="830.6" x2="480.0" y2="844.1" stroke="#c4c4c8" stroke-width="1.6"/>
<line x1="480.0" y1="846.6" x2="480.0" y2="858.7" stroke="#111" stroke-width="2.9" stroke-dasharray="0 4.85" stroke-linecap="round"/>
<line x1="460.6" y1="457.2" x2="460.6" y2="442.2" stroke="#111" stroke-width="2.9" stroke-dasharray="0 4.85" stroke-linecap="round"/>
<line x1="517.7" y1="445.3" x2="517.7" y2="823.9" stroke="#111" stroke-width="2.9" stroke-dasharray="0 4.85" stroke-linecap="round"/>
<line x1="517.7" y1="825.4" x2="517.7" y2="838.9" stroke="#c4c4c8" stroke-width="1.6"/>
<line x1="517.7" y1="841.4" x2="517.7" y2="853.1" stroke="#111" stroke-width="2.9" stroke-dasharray="0 4.85" stroke-linecap="round"/>
<line x1="498.3" y1="423.8" x2="498.3" y2="408.8" stroke="#111" stroke-width="2.9" stroke-dasharray="0 4.85" stroke-linecap="round"/>
<line x1="625.1" y1="333.7" x2="625.1" y2="809.0" stroke="#111" stroke-width="2.9" stroke-dasharray="0 4.85" stroke-linecap="round"/>
<line x1="625.1" y1="810.5" x2="625.1" y2="824.0" stroke="#c4c4c8" stroke-width="1.6"/>
<line x1="625.1" y1="826.5" x2="625.1" y2="836.9" stroke="#111" stroke-width="2.9" stroke-dasharray="0 4.85" stroke-linecap="round"/>
<line x1="605.7" y1="312.2" x2="605.7" y2="297.2" stroke="#111" stroke-width="2.9" stroke-dasharray="0 4.85" stroke-linecap="round"/>
<line x1="643.0" y1="311.1" x2="643.0" y2="806.6" stroke="#111" stroke-width="2.9" stroke-dasharray="0 4.85" stroke-linecap="round"/>
<line x1="643.0" y1="808.1" x2="643.0" y2="821.6" stroke="#c4c4c8" stroke-width="1.6"/>
<line x1="643.0" y1="824.1" x2="643.0" y2="834.1" stroke="#111" stroke-width="2.9" stroke-dasharray="0 4.85" stroke-linecap="round"/>
<line x1="623.6" y1="289.6" x2="623.6" y2="274.6" stroke="#111" stroke-width="2.9" stroke-dasharray="0 4.85" stroke-linecap="round"/>
<line x1="678.8" y1="270.9" x2="678.8" y2="801.6" stroke="#111" stroke-width="2.9" stroke-dasharray="0 4.85" stroke-linecap="round"/>
<line x1="678.8" y1="803.1" x2="678.8" y2="816.6" stroke="#c4c4c8" stroke-width="1.6"/>
<line x1="678.8" y1="819.1" x2="678.8" y2="828.7" stroke="#111" stroke-width="2.9" stroke-dasharray="0 4.85" stroke-linecap="round"/>
<line x1="659.4" y1="249.4" x2="659.4" y2="234.4" stroke="#111" stroke-width="2.9" stroke-dasharray="0 4.85" stroke-linecap="round"/>
<line x1="707.5" y1="239.1" x2="707.5" y2="797.6" stroke="#111" stroke-width="2.9" stroke-dasharray="0 4.85" stroke-linecap="round"/>
<line x1="707.5" y1="799.1" x2="707.5" y2="812.6" stroke="#c4c4c8" stroke-width="1.6"/>
<line x1="707.5" y1="815.1" x2="707.5" y2="824.4" stroke="#111" stroke-width="2.9" stroke-dasharray="0 4.85" stroke-linecap="round"/>
<line x1="688.1" y1="217.6" x2="688.1" y2="202.6" stroke="#111" stroke-width="2.9" stroke-dasharray="0 4.85" stroke-linecap="round"/>
<line x1="61.3" y1="801.0" x2="61.3" y2="784.0" stroke="#3c4650" stroke-width="1.6"/>
<line x1="79.2" y1="792.8" x2="79.2" y2="775.8" stroke="#3c4650" stroke-width="1.6"/>
<line x1="97.1" y1="788.0" x2="97.1" y2="771.0" stroke="#3c4650" stroke-width="1.6"/>
<line x1="115.0" y1="784.7" x2="115.0" y2="767.7" stroke="#3c4650" stroke-width="1.6"/>
<line x1="132.9" y1="781.1" x2="132.9" y2="764.1" stroke="#3c4650" stroke-width="1.6"/>
<line x1="150.8" y1="767.0" x2="150.8" y2="750.0" stroke="#3c4650" stroke-width="1.6"/>
<line x1="168.8" y1="755.6" x2="168.8" y2="738.6" stroke="#3c4650" stroke-width="1.6"/>
<line x1="186.7" y1="743.9" x2="186.7" y2="726.9" stroke="#3c4650" stroke-width="1.6"/>
<line x1="204.6" y1="730.6" x2="204.6" y2="713.6" stroke="#3c4650" stroke-width="1.6"/>
<line x1="222.5" y1="716.5" x2="222.5" y2="699.5" stroke="#3c4650" stroke-width="1.6"/>
<line x1="240.4" y1="698.5" x2="240.4" y2="681.5" stroke="#3c4650" stroke-width="1.6"/>
<line x1="258.3" y1="678.6" x2="258.3" y2="661.6" stroke="#3c4650" stroke-width="1.6"/>
<line x1="276.2" y1="660.7" x2="276.2" y2="643.7" stroke="#3c4650" stroke-width="1.6"/>
<line x1="294.1" y1="649.7" x2="294.1" y2="632.7" stroke="#3c4650" stroke-width="1.6"/>
<line x1="312.0" y1="631.3" x2="312.0" y2="614.3" stroke="#3c4650" stroke-width="1.6"/>
<line x1="329.9" y1="611.0" x2="329.9" y2="594.0" stroke="#3c4650" stroke-width="1.6"/>
<line x1="347.8" y1="590.0" x2="347.8" y2="573.0" stroke="#3c4650" stroke-width="1.6"/>
<line x1="365.7" y1="565.8" x2="365.7" y2="548.8" stroke="#3c4650" stroke-width="1.6"/>
<line x1="383.6" y1="541.7" x2="383.6" y2="524.7" stroke="#3c4650" stroke-width="1.6"/>
<line x1="401.6" y1="522.2" x2="401.6" y2="505.2" stroke="#3c4650" stroke-width="1.6"/>
<line x1="419.5" y1="503.1" x2="419.5" y2="486.1" stroke="#3c4650" stroke-width="1.6"/>
<line x1="437.4" y1="485.1" x2="437.4" y2="468.1" stroke="#3c4650" stroke-width="1.6"/>
<line x1="455.3" y1="465.6" x2="455.3" y2="448.6" stroke="#3c4650" stroke-width="1.6"/>
<line x1="473.2" y1="448.4" x2="473.2" y2="431.4" stroke="#3c4650" stroke-width="1.6"/>
<line x1="491.1" y1="432.4" x2="491.1" y2="415.4" stroke="#3c4650" stroke-width="1.6"/>
<line x1="509.0" y1="414.4" x2="509.0" y2="397.4" stroke="#3c4650" stroke-width="1.6"/>
<line x1="526.9" y1="394.2" x2="526.9" y2="377.2" stroke="#3c4650" stroke-width="1.6"/>
<line x1="544.8" y1="377.8" x2="544.8" y2="360.8" stroke="#3c4650" stroke-width="1.6"/>
<line x1="562.7" y1="361.7" x2="562.7" y2="344.7" stroke="#3c4650" stroke-width="1.6"/>
<line x1="580.6" y1="340.7" x2="580.6" y2="323.7" stroke="#3c4650" stroke-width="1.6"/>
<line x1="598.5" y1="322.3" x2="598.5" y2="305.3" stroke="#3c4650" stroke-width="1.6"/>
<line x1="616.4" y1="301.7" x2="616.4" y2="284.7" stroke="#3c4650" stroke-width="1.6"/>
<line x1="634.3" y1="281.0" x2="634.3" y2="264.0" stroke="#3c4650" stroke-width="1.6"/>
<line x1="652.3" y1="259.9" x2="652.3" y2="242.9" stroke="#3c4650" stroke-width="1.6"/>
<line x1="670.2" y1="241.2" x2="670.2" y2="224.2" stroke="#3c4650" stroke-width="1.6"/>
<line x1="688.1" y1="220.6" x2="688.1" y2="203.6" stroke="#3c4650" stroke-width="1.6"/>
<line x1="706.0" y1="202.6" x2="706.0" y2="185.6" stroke="#3c4650" stroke-width="1.6"/>
<line x1="739.0" y1="201.5" x2="739.0" y2="878.6" stroke="#111" stroke-width="2.4"/>
<line x1="62.8" y1="820.0" x2="62.8" y2="975.6" stroke="#111" stroke-width="2.4"/>
<polyline points="62.8,821.4 70.3,820.4 89.7,806.8 98.6,804.1 116.5,799.5 130.8,795.0 134.4,796.0 147.7,795.2 152.3,793.8 170.2,779.9 188.2,768.3 206.1,756.8 218.6,746.9 224.0,743.5 234.7,734.8 241.9,729.9 259.8,712.0 274.1,695.7 277.7,692.1 295.6,674.0 309.6,662.7 313.5,662.3 331.4,644.8 349.3,624.5 367.2,603.5 377.3,592.4 381.6,584.9 385.1,579.3 403.0,555.2 420.9,535.7 426.3,527.6 438.9,516.6 456.8,498.6 474.7,479.1 480.0,473.7 492.6,461.9 510.5,445.7 517.7,440.3 528.4,427.9 546.3,407.7 564.2,391.3 582.1,375.2 600.0,354.2 617.9,335.8 625.1,328.7 635.8,315.2 643.0,306.1 653.7,294.5 671.7,273.4 678.8,265.9 689.6,254.7 707.5,234.1 725.4,214.6 739.0,201.5" fill="none" stroke="#1a1a1a" stroke-width="7.2" stroke-linejoin="round" stroke-linecap="round"/>
<polyline points="62.8,821.4 70.3,820.4 89.7,806.8 98.6,804.1 116.5,799.5 130.8,795.0 134.4,796.0 147.7,795.2 152.3,793.8 170.2,779.9 188.2,768.3 206.1,756.8 218.6,746.9 224.0,743.5 234.7,734.8 241.9,729.9 259.8,712.0 274.1,695.7 277.7,692.1 295.6,674.0 309.6,662.7 313.5,662.3 331.4,644.8 349.3,624.5 367.2,603.5 377.3,592.4 381.6,584.9 385.1,579.3 403.0,555.2 420.9,535.7 426.3,527.6 438.9,516.6 456.8,498.6 474.7,479.1 480.0,473.7 492.6,461.9 510.5,445.7 517.7,440.3 528.4,427.9 546.3,407.7 564.2,391.3 582.1,375.2 600.0,354.2 617.9,335.8 625.1,328.7 635.8,315.2 643.0,306.1 653.7,294.5 671.7,273.4 678.8,265.9 689.6,254.7 707.5,234.1 725.4,214.6 739.0,201.5" fill="none" stroke="#e8126e" stroke-width="3.9" stroke-linejoin="round" stroke-linecap="round"/>
<text font-size="16.0" fill="#222" font-weight="normal" text-anchor="start" transform="translate(61.1 777.0) rotate(-90) scale(0.710 1)" stroke="#222" stroke-width="0.4">1275</text>
<text font-size="16.0" fill="#222" font-weight="normal" text-anchor="start" transform="translate(79.0 768.8) rotate(-90) scale(0.710 1)" stroke="#222" stroke-width="0.4">1292</text>
<text font-size="16.0" fill="#222" font-weight="normal" text-anchor="start" transform="translate(96.9 764.0) rotate(-90) scale(0.710 1)" stroke="#222" stroke-width="0.4">1298</text>
<text font-size="16.0" fill="#222" font-weight="normal" text-anchor="start" transform="translate(150.6 743.0) rotate(-90) scale(0.710 1)" stroke="#222" stroke-width="0.4">1333</text>
<text font-size="16.0" fill="#222" font-weight="normal" text-anchor="start" transform="translate(168.6 731.6) rotate(-90) scale(0.710 1)" stroke="#222" stroke-width="0.4">1356</text>
<text font-size="16.0" fill="#222" font-weight="normal" text-anchor="start" transform="translate(186.5 719.9) rotate(-90) scale(0.710 1)" stroke="#222" stroke-width="0.4">1380</text>
<text font-size="16.0" fill="#222" font-weight="normal" text-anchor="start" transform="translate(240.2 674.5) rotate(-90) scale(0.710 1)" stroke="#222" stroke-width="0.4">1478</text>
<text font-size="16.0" fill="#222" font-weight="normal" text-anchor="start" transform="translate(276.0 636.7) rotate(-90) scale(0.710 1)" stroke="#222" stroke-width="0.4">1563</text>
<text font-size="16.0" fill="#222" font-weight="normal" text-anchor="start" transform="translate(311.8 607.3) rotate(-90) scale(0.710 1)" stroke="#222" stroke-width="0.4">1626</text>
<text font-size="16.0" fill="#222" font-weight="normal" text-anchor="start" transform="translate(329.7 587.0) rotate(-90) scale(0.710 1)" stroke="#222" stroke-width="0.4">1672</text>
<text font-size="16.0" fill="#222" font-weight="normal" text-anchor="start" transform="translate(347.6 566.0) rotate(-90) scale(0.710 1)" stroke="#222" stroke-width="0.4">1720</text>
<text font-size="16.0" fill="#222" font-weight="normal" text-anchor="start" transform="translate(383.4 517.7) rotate(-90) scale(0.710 1)" stroke="#222" stroke-width="0.4">1832</text>
<text font-size="16.0" fill="#222" font-weight="normal" text-anchor="start" transform="translate(419.3 479.1) rotate(-90) scale(0.710 1)" stroke="#222" stroke-width="0.4">1919</text>
<text font-size="16.0" fill="#222" font-weight="normal" text-anchor="start" transform="translate(437.2 461.1) rotate(-90) scale(0.710 1)" stroke="#222" stroke-width="0.4">1959</text>
<text font-size="16.0" fill="#222" font-weight="normal" text-anchor="start" transform="translate(473.0 424.4) rotate(-90) scale(0.710 1)" stroke="#222" stroke-width="0.4">2041</text>
<text font-size="16.0" fill="#222" font-weight="normal" text-anchor="start" transform="translate(508.8 390.4) rotate(-90) scale(0.710 1)" stroke="#222" stroke-width="0.4">2116</text>
<text font-size="16.0" fill="#222" font-weight="normal" text-anchor="start" transform="translate(526.7 370.2) rotate(-90) scale(0.710 1)" stroke="#222" stroke-width="0.4">2162</text>
<text font-size="16.0" fill="#222" font-weight="normal" text-anchor="start" transform="translate(544.6 353.8) rotate(-90) scale(0.710 1)" stroke="#222" stroke-width="0.4">2198</text>
<text font-size="16.0" fill="#222" font-weight="normal" text-anchor="start" transform="translate(562.5 337.7) rotate(-90) scale(0.710 1)" stroke="#222" stroke-width="0.4">2233</text>
<text font-size="16.0" fill="#222" font-weight="normal" text-anchor="start" transform="translate(580.4 316.7) rotate(-90) scale(0.710 1)" stroke="#222" stroke-width="0.4">2281</text>
<text font-size="16.0" fill="#222" font-weight="normal" text-anchor="start" transform="translate(652.1 235.9) rotate(-90) scale(0.710 1)" stroke="#222" stroke-width="0.4">2464</text>
<text font-size="16.0" fill="#222" font-weight="normal" text-anchor="start" transform="translate(705.8 178.6) rotate(-90) scale(0.710 1)" stroke="#222" stroke-width="0.4">2593</text>
<text font-size="16.0" fill="#222" font-weight="normal" text-anchor="start" transform="translate(114.9 757.3) rotate(-90) scale(0.680 1)" stroke="#222" stroke-width="0.4">1305 - BV. PASSO TONALE</text>
<text font-size="16.0" fill="#222" font-weight="normal" text-anchor="start" transform="translate(132.2 757.7) rotate(-90) scale(0.680 1)" stroke="#222" stroke-width="0.4">1298 - PONTE SU.T. FRIGIDOLFO</text>
<text font-size="16.0" fill="#222" font-weight="normal" text-anchor="start" transform="translate(202.7 708.0) rotate(-90) scale(0.680 1)" stroke="#222" stroke-width="0.4">1401 - TORNANTE</text>
<text font-size="16.0" fill="#222" font-weight="normal" text-anchor="start" transform="translate(219.4 695.7) rotate(-90) scale(0.680 1)" stroke="#222" stroke-width="0.4">1427 - TORNANTE</text>
<text font-size="16.0" fill="#222" font-weight="normal" text-anchor="start" transform="translate(256.7 656.2) rotate(-90) scale(0.680 1)" stroke="#222" stroke-width="0.4">1515 - BIVIO PER PEZZO</text>
<text font-size="16.0" fill="#222" font-weight="normal" text-anchor="start" transform="translate(290.4 624.6) rotate(-90) scale(0.680 1)" stroke="#222" stroke-width="0.4">1584 - SANTA APOLLONIA</text>
<text font-size="16.0" fill="#222" font-weight="normal" text-anchor="start" transform="translate(364.5 545.4) rotate(-90) scale(0.680 1)" stroke="#222" stroke-width="0.4">1763 - TORNANTE</text>
<text font-size="16.0" fill="#222" font-weight="normal" text-anchor="start" transform="translate(405.6 488.1) rotate(-90) scale(0.680 1)" stroke="#222" stroke-width="0.4">1895 - TORNANTE</text>
<text font-size="16.0" fill="#222" font-weight="normal" text-anchor="start" transform="translate(458.3 434.2) rotate(-90) scale(0.680 1)" stroke="#222" stroke-width="0.4">2015 - TORNANTE</text>
<text font-size="16.0" fill="#222" font-weight="normal" text-anchor="start" transform="translate(498.6 400.8) rotate(-90) scale(0.680 1)" stroke="#222" stroke-width="0.4">2088 - TORNANTE</text>
<text font-size="16.0" fill="#222" font-weight="normal" text-anchor="start" transform="translate(606.0 289.2) rotate(-90) scale(0.680 1)" stroke="#222" stroke-width="0.4">2338 - INIZIO GALLERIA</text>
<text font-size="16.0" fill="#222" font-weight="normal" text-anchor="start" transform="translate(623.6 266.6) rotate(-90) scale(0.680 1)" stroke="#222" stroke-width="0.4">2390 - FINE GALLERIA</text>
<text font-size="16.0" fill="#222" font-weight="normal" text-anchor="start" transform="translate(663.0 226.4) rotate(-90) scale(0.680 1)" stroke="#222" stroke-width="0.4">2481 - TORNANTE</text>
<text font-size="16.0" fill="#222" font-weight="normal" text-anchor="start" transform="translate(688.5 194.6) rotate(-90) scale(0.680 1)" stroke="#222" stroke-width="0.4">2553 - TORNANTE</text>
<text font-size="14.0" fill="#222" font-weight="normal" text-anchor="middle" transform="translate(77.1 868.3) rotate(-90) scale(0.720 1)" stroke="#222" stroke-width="0.35">3.0</text>
<text font-size="14.0" fill="#222" font-weight="normal" text-anchor="middle" transform="translate(95.0 865.8) rotate(-90) scale(0.720 1)" stroke="#222" stroke-width="0.35">3.4</text>
<text font-size="14.0" fill="#222" font-weight="normal" text-anchor="middle" transform="translate(112.9 863.3) rotate(-90) scale(0.720 1)" stroke="#222" stroke-width="0.35">1.2</text>
<text font-size="14.0" fill="#222" font-weight="normal" text-anchor="middle" transform="translate(130.8 860.8) rotate(-90) scale(0.720 1)" stroke="#222" stroke-width="0.35">0.4</text>
<text font-size="14.0" fill="#222" font-weight="normal" text-anchor="middle" transform="translate(148.7 858.4) rotate(-90) scale(0.720 1)" stroke="#222" stroke-width="0.35">0.6</text>
<text font-size="14.0" fill="#222" font-weight="normal" text-anchor="middle" transform="translate(166.6 855.9) rotate(-90) scale(0.720 1)" stroke="#222" stroke-width="0.35">6.0</text>
<text font-size="14.0" fill="#222" font-weight="normal" text-anchor="middle" transform="translate(184.5 853.4) rotate(-90) scale(0.720 1)" stroke="#222" stroke-width="0.35">4.6</text>
<text font-size="14.0" fill="#222" font-weight="normal" text-anchor="middle" transform="translate(202.4 850.9) rotate(-90) scale(0.720 1)" stroke="#222" stroke-width="0.35">4.8</text>
<text font-size="14.0" fill="#222" font-weight="normal" text-anchor="middle" transform="translate(220.3 848.4) rotate(-90) scale(0.720 1)" stroke="#222" stroke-width="0.35">5.6</text>
<text font-size="14.0" fill="#222" font-weight="normal" text-anchor="middle" transform="translate(238.2 846.0) rotate(-90) scale(0.720 1)" stroke="#222" stroke-width="0.35">6.0</text>
<text font-size="14.0" fill="#222" font-weight="normal" text-anchor="middle" transform="translate(256.1 843.5) rotate(-90) scale(0.720 1)" stroke="#222" stroke-width="0.35">8.0</text>
<text font-size="14.0" fill="#222" font-weight="normal" text-anchor="middle" transform="translate(274.0 841.0) rotate(-90) scale(0.720 1)" stroke="#222" stroke-width="0.35">9.0</text>
<text font-size="14.0" fill="#222" font-weight="normal" text-anchor="middle" transform="translate(291.9 838.5) rotate(-90) scale(0.720 1)" stroke="#222" stroke-width="0.35">8.0</text>
<text font-size="14.0" fill="#222" font-weight="normal" text-anchor="middle" transform="translate(309.9 836.1) rotate(-90) scale(0.720 1)" stroke="#222" stroke-width="0.35">4.4</text>
<text font-size="14.0" fill="#222" font-weight="normal" text-anchor="middle" transform="translate(327.8 833.6) rotate(-90) scale(0.720 1)" stroke="#222" stroke-width="0.35">8.2</text>
<text font-size="14.0" fill="#222" font-weight="normal" text-anchor="middle" transform="translate(345.7 831.1) rotate(-90) scale(0.720 1)" stroke="#222" stroke-width="0.35">9.2</text>
<text font-size="14.0" fill="#222" font-weight="normal" text-anchor="middle" transform="translate(363.6 828.6) rotate(-90) scale(0.720 1)" stroke="#222" stroke-width="0.35">9.6</text>
<text font-size="14.0" fill="#222" font-weight="normal" text-anchor="middle" transform="translate(381.5 826.2) rotate(-90) scale(0.720 1)" stroke="#222" stroke-width="0.35">11.2</text>
<text font-size="14.0" fill="#222" font-weight="normal" text-anchor="middle" transform="translate(399.4 823.7) rotate(-90) scale(0.720 1)" stroke="#222" stroke-width="0.35">11.2</text>
<text font-size="14.0" fill="#222" font-weight="normal" text-anchor="middle" transform="translate(417.3 821.2) rotate(-90) scale(0.720 1)" stroke="#222" stroke-width="0.35">8.8</text>
<text font-size="14.0" fill="#222" font-weight="normal" text-anchor="middle" transform="translate(435.2 818.7) rotate(-90) scale(0.720 1)" stroke="#222" stroke-width="0.35">8.6</text>
<text font-size="14.0" fill="#222" font-weight="normal" text-anchor="middle" transform="translate(453.1 816.3) rotate(-90) scale(0.720 1)" stroke="#222" stroke-width="0.35">8.0</text>
<text font-size="14.0" fill="#222" font-weight="normal" text-anchor="middle" transform="translate(471.0 813.8) rotate(-90) scale(0.720 1)" stroke="#222" stroke-width="0.35">8.8</text>
<text font-size="14.0" fill="#222" font-weight="normal" text-anchor="middle" transform="translate(488.9 811.3) rotate(-90) scale(0.720 1)" stroke="#222" stroke-width="0.35">7.6</text>
<text font-size="14.0" fill="#222" font-weight="normal" text-anchor="middle" transform="translate(506.8 808.8) rotate(-90) scale(0.720 1)" stroke="#222" stroke-width="0.35">7.0</text>
<text font-size="14.0" fill="#222" font-weight="normal" text-anchor="middle" transform="translate(524.7 806.3) rotate(-90) scale(0.720 1)" stroke="#222" stroke-width="0.35">8.0</text>
<text font-size="14.0" fill="#222" font-weight="normal" text-anchor="middle" transform="translate(542.6 803.9) rotate(-90) scale(0.720 1)" stroke="#222" stroke-width="0.35">9.2</text>
<text font-size="14.0" fill="#222" font-weight="normal" text-anchor="middle" transform="translate(560.6 801.4) rotate(-90) scale(0.720 1)" stroke="#222" stroke-width="0.35">7.2</text>
<text font-size="14.0" fill="#222" font-weight="normal" text-anchor="middle" transform="translate(578.5 798.9) rotate(-90) scale(0.720 1)" stroke="#222" stroke-width="0.35">7.0</text>
<text font-size="14.0" fill="#222" font-weight="normal" text-anchor="middle" transform="translate(596.4 796.4) rotate(-90) scale(0.720 1)" stroke="#222" stroke-width="0.35">9.6</text>
<text font-size="14.0" fill="#222" font-weight="normal" text-anchor="middle" transform="translate(614.3 794.0) rotate(-90) scale(0.720 1)" stroke="#222" stroke-width="0.35">8.2</text>
<text font-size="14.0" fill="#222" font-weight="normal" text-anchor="middle" transform="translate(632.2 791.5) rotate(-90) scale(0.720 1)" stroke="#222" stroke-width="0.35">9.4</text>
<text font-size="14.0" fill="#222" font-weight="normal" text-anchor="middle" transform="translate(650.1 789.0) rotate(-90) scale(0.720 1)" stroke="#222" stroke-width="0.35">9.4</text>
<text font-size="14.0" fill="#222" font-weight="normal" text-anchor="middle" transform="translate(668.0 786.5) rotate(-90) scale(0.720 1)" stroke="#222" stroke-width="0.35">9.6</text>
<text font-size="14.0" fill="#222" font-weight="normal" text-anchor="middle" transform="translate(685.9 784.1) rotate(-90) scale(0.720 1)" stroke="#222" stroke-width="0.35">8.4</text>
<text font-size="14.0" fill="#222" font-weight="normal" text-anchor="middle" transform="translate(703.8 781.6) rotate(-90) scale(0.720 1)" stroke="#222" stroke-width="0.35">10.0</text>
<text font-size="14.0" fill="#222" font-weight="normal" text-anchor="middle" transform="translate(721.7 779.1) rotate(-90) scale(0.720 1)" stroke="#222" stroke-width="0.35">7.4</text>
<text font-size="14.0" fill="#222" font-weight="normal" text-anchor="middle" transform="translate(737.5 776.9) rotate(-90) scale(0.720 1)" stroke="#222" stroke-width="0.35">6.6</text>
<text font-size="14.5" font-weight="bold" fill="#1a1a1a" stroke="#1a1a1a" stroke-width="0.3" text-anchor="middle" transform="translate(117.3 894.2) skewY(-7.9) scale(0.78 1)">1.7%</text>
<text font-size="14.5" font-weight="bold" fill="#1a1a1a" stroke="#1a1a1a" stroke-width="0.3" text-anchor="middle" transform="translate(240.0 877.2) skewY(-7.9) scale(0.78 1)">6.3%</text>
<text font-size="14.5" font-weight="bold" fill="#1a1a1a" stroke="#1a1a1a" stroke-width="0.3" text-anchor="middle" transform="translate(382.5 857.5) skewY(-7.9) scale(0.78 1)">9.5%</text>
<text font-size="14.5" font-weight="bold" fill="#1a1a1a" stroke="#1a1a1a" stroke-width="0.3" text-anchor="middle" transform="translate(548.0 834.6) skewY(-7.9) scale(0.78 1)">8.4%</text>
<text font-size="14.5" font-weight="bold" fill="#1a1a1a" stroke="#1a1a1a" stroke-width="0.3" text-anchor="middle" transform="translate(725.5 810.1) skewY(-7.9) scale(0.78 1)">7.2%</text>
<text font-size="14.5" fill="#2a2a2a" text-anchor="middle" stroke="#2a2a2a" stroke-width="0.3" transform="translate(64.0 937.0) skewY(-7.9) scale(0.65 1)">0.0</text>
<text font-size="14.5" fill="#2a2a2a" text-anchor="middle" stroke="#2a2a2a" stroke-width="0.3" transform="translate(99.8 931.8) skewY(-7.9) scale(0.65 1)">1.0</text>
<text font-size="14.5" fill="#2a2a2a" text-anchor="middle" stroke="#2a2a2a" stroke-width="0.3" transform="translate(135.6 926.5) skewY(-7.9) scale(0.65 1)">2.0</text>
<text font-size="14.5" fill="#2a2a2a" text-anchor="middle" stroke="#2a2a2a" stroke-width="0.3" transform="translate(171.4 921.3) skewY(-7.9) scale(0.65 1)">3.0</text>
<text font-size="14.5" fill="#2a2a2a" text-anchor="middle" stroke="#2a2a2a" stroke-width="0.3" transform="translate(207.3 916.0) skewY(-7.9) scale(0.65 1)">4.0</text>
<text font-size="14.5" fill="#2a2a2a" text-anchor="middle" stroke="#2a2a2a" stroke-width="0.3" transform="translate(243.1 910.7) skewY(-7.9) scale(0.65 1)">5.0</text>
<text font-size="14.5" fill="#2a2a2a" text-anchor="middle" stroke="#2a2a2a" stroke-width="0.3" transform="translate(278.9 905.5) skewY(-7.9) scale(0.65 1)">6.0</text>
<text font-size="14.5" fill="#2a2a2a" text-anchor="middle" stroke="#2a2a2a" stroke-width="0.3" transform="translate(314.7 900.2) skewY(-7.9) scale(0.65 1)">7.0</text>
<text font-size="14.5" fill="#2a2a2a" text-anchor="middle" stroke="#2a2a2a" stroke-width="0.3" transform="translate(350.5 895.0) skewY(-7.9) scale(0.65 1)">8.0</text>
<text font-size="14.5" fill="#2a2a2a" text-anchor="middle" stroke="#2a2a2a" stroke-width="0.3" transform="translate(386.3 889.7) skewY(-7.9) scale(0.65 1)">9.0</text>
<text font-size="14.5" fill="#2a2a2a" text-anchor="middle" stroke="#2a2a2a" stroke-width="0.3" transform="translate(422.1 884.5) skewY(-7.9) scale(0.65 1)">10.0</text>
<text font-size="14.5" fill="#2a2a2a" text-anchor="middle" stroke="#2a2a2a" stroke-width="0.3" transform="translate(458.0 879.2) skewY(-7.9) scale(0.65 1)">11.0</text>
<text font-size="14.5" fill="#2a2a2a" text-anchor="middle" stroke="#2a2a2a" stroke-width="0.3" transform="translate(493.8 874.0) skewY(-7.9) scale(0.65 1)">12.0</text>
<text font-size="14.5" fill="#2a2a2a" text-anchor="middle" stroke="#2a2a2a" stroke-width="0.3" transform="translate(529.6 868.7) skewY(-7.9) scale(0.65 1)">13.0</text>
<text font-size="14.5" fill="#2a2a2a" text-anchor="middle" stroke="#2a2a2a" stroke-width="0.3" transform="translate(565.4 863.5) skewY(-7.9) scale(0.65 1)">14.0</text>
<text font-size="14.5" fill="#2a2a2a" text-anchor="middle" stroke="#2a2a2a" stroke-width="0.3" transform="translate(601.2 858.2) skewY(-7.9) scale(0.65 1)">15.0</text>
<text font-size="14.5" fill="#2a2a2a" text-anchor="middle" stroke="#2a2a2a" stroke-width="0.3" transform="translate(637.0 853.0) skewY(-7.9) scale(0.65 1)">16.0</text>
<text font-size="14.5" fill="#2a2a2a" text-anchor="middle" stroke="#2a2a2a" stroke-width="0.3" transform="translate(672.9 847.7) skewY(-7.9) scale(0.65 1)">17.0</text>
<text font-size="14.5" fill="#2a2a2a" text-anchor="middle" stroke="#2a2a2a" stroke-width="0.3" transform="translate(708.7 842.4) skewY(-7.9) scale(0.65 1)">18.0</text>
<text font-size="15.5" fill="#222" font-weight="normal" text-anchor="start" transform="translate(131.5 961.9) rotate(-90) scale(0.760 1)" stroke="#222" stroke-width="0.35">1.900</text>
<text font-size="15.5" fill="#222" font-weight="normal" text-anchor="start" transform="translate(148.4 959.6) rotate(-90) scale(0.760 1)" stroke="#222" stroke-width="0.35">2.370</text>
<text font-size="15.5" fill="#222" font-weight="normal" text-anchor="start" transform="translate(219.3 949.8) rotate(-90) scale(0.760 1)" stroke="#222" stroke-width="0.35">4.350</text>
<text font-size="15.5" fill="#222" font-weight="normal" text-anchor="start" transform="translate(235.4 947.5) rotate(-90) scale(0.760 1)" stroke="#222" stroke-width="0.35">4.800</text>
<text font-size="15.5" fill="#222" font-weight="normal" text-anchor="start" transform="translate(274.8 942.1) rotate(-90) scale(0.760 1)" stroke="#222" stroke-width="0.35">5.900</text>
<text font-size="15.5" fill="#222" font-weight="normal" text-anchor="start" transform="translate(310.3 937.2) rotate(-90) scale(0.760 1)" stroke="#222" stroke-width="0.35">6.890</text>
<text font-size="15.5" fill="#222" font-weight="normal" text-anchor="start" transform="translate(382.3 927.2) rotate(-90) scale(0.760 1)" stroke="#222" stroke-width="0.35">8.900</text>
<text font-size="15.5" fill="#222" font-weight="normal" text-anchor="start" transform="translate(427.0 921.0) rotate(-90) scale(0.760 1)" stroke="#222" stroke-width="0.35">10.150</text>
<text font-size="15.5" fill="#222" font-weight="normal" text-anchor="start" transform="translate(480.7 913.6) rotate(-90) scale(0.760 1)" stroke="#222" stroke-width="0.35">11.650</text>
<text font-size="15.5" fill="#222" font-weight="normal" text-anchor="start" transform="translate(518.4 908.4) rotate(-90) scale(0.760 1)" stroke="#222" stroke-width="0.35">12.700</text>
<text font-size="15.5" fill="#222" font-weight="normal" text-anchor="start" transform="translate(625.8 893.5) rotate(-90) scale(0.760 1)" stroke="#222" stroke-width="0.35">15.700</text>
<text font-size="15.5" fill="#222" font-weight="normal" text-anchor="start" transform="translate(643.7 891.1) rotate(-90) scale(0.760 1)" stroke="#222" stroke-width="0.35">16.200</text>
<text font-size="15.5" fill="#222" font-weight="normal" text-anchor="start" transform="translate(679.5 886.1) rotate(-90) scale(0.760 1)" stroke="#222" stroke-width="0.35">17.200</text>
<text font-size="15.5" fill="#222" font-weight="normal" text-anchor="start" transform="translate(708.2 882.1) rotate(-90) scale(0.760 1)" stroke="#222" stroke-width="0.35">18.000</text>
<text font-size="15.5" fill="#111" font-weight="bold" text-anchor="start" transform="translate(61.0 975.0) rotate(-90) scale(0.780 1)">0.000</text>
<text font-size="14.0" fill="#111" font-weight="normal" text-anchor="start" transform="translate(78.5 980.0) rotate(-90) scale(0.780 1)">km 88.0</text>
<text font-size="15.5" fill="#111" font-weight="bold" text-anchor="start" transform="translate(737.5 880.0) rotate(-90) scale(0.780 1)">18.880</text>
<text font-size="14.0" fill="#111" font-weight="normal" text-anchor="start" transform="translate(755.5 884.6) rotate(-90) scale(0.780 1)">km 106.9</text>
<text font-size="21.8" fill="#111" font-weight="bold" text-anchor="start" transform="translate(38.5 812.5) rotate(-90) scale(0.690 1)">1260 - PONTE DI LEGNO - SS. 42</text>
<text font-size="22.5" fill="#111" font-weight="bold" text-anchor="start" transform="translate(744.0 169.0) rotate(-90) scale(0.670 1)">2618 - PASSO GAVIA</text>
<g transform="translate(740 750) scale(0.05)" fill="none" stroke="#111" stroke-width="34" stroke-linecap="round" stroke-linejoin="round"><path d="M205,385 C180,330 175,230 200,205 C225,180 290,175 320,200 C350,230 345,330 320,370 L290,430"/><path d="M290,430 L180,595 L340,580 Z"/><path d="M305,665 C260,640 200,650 192,720 C185,790 205,830 235,830"/><path d="M305,665 C340,700 345,790 290,850"/></g>
<polygon points="309.2,332 296.8,354.8 320.8,352.2" fill="#c8def4" stroke="#c8def4" stroke-width="8" filter="url(#blur2)"/>
<polygon points="309.2,332 296.8,354.8 320.8,352.2" fill="#fff" stroke="#333" stroke-width="5.2" stroke-linejoin="round"/>
<polygon points="309.2,332 296.8,354.8 320.8,352.2" fill="#fff" stroke="#e3161e" stroke-width="3.4" stroke-linejoin="round"/>
<polygon points="309.4,337.5 300.8,351.6 316.6,350" fill="#fff"/>
<polygon points="302.8,350.8 314.3,343.3 316,349.6" fill="#1a1a1a"/>
<text font-size="12.5" fill="#222" stroke="#222" stroke-width="0.25" transform="translate(292.5 369) rotate(-4) scale(0.74 1)">max 16%</text>
<polyline points="312.2,372 352.8,555.2 377.9,562.6" fill="none" stroke="#111" stroke-width="1.6"/>
<circle cx="377.9" cy="562.6" r="2.8" fill="#fff" stroke="#111" stroke-width="1.5"/>
</svg></body></html>
